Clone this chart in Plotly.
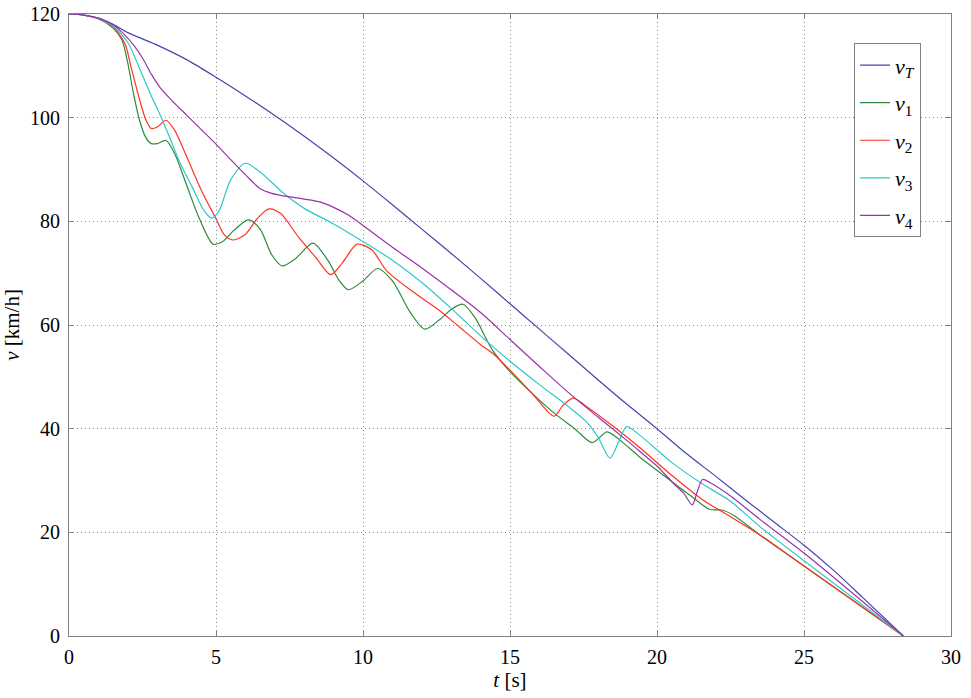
import plotly.graph_objects as go

# ---- data ----
t_T = [0, 0.5, 1, 1.5, 2, 2.5, 3, 4, 5, 6, 7, 8, 9, 10, 11, 12, 13, 14, 15, 16, 17, 18, 19, 20, 21, 22, 23, 24, 25, 26, 27, 28.38]
v_T = [120, 119.8, 119.2, 118, 116.4, 115.2, 114, 111.2, 107.8, 104.2, 100.4, 96.4, 92.2, 87.8, 83.2, 78.5, 73.8, 69.0, 64.1, 59.2, 54.3, 49.4, 44.6, 40.0, 35.2, 30.8, 26.3, 21.9, 17.5, 12.7, 7.4, 0]

t_1 = [0, 0.5, 1, 1.5, 1.8, 2.0, 2.2, 2.4, 2.6, 2.8, 3.0, 3.3, 3.6, 4.0, 4.4, 4.9, 5.2, 5.6, 6.1, 6.5, 6.9, 7.25, 7.7, 8.3, 8.8, 9.2, 9.5, 10.0, 10.5, 11.0, 11.6, 12.1, 12.6, 13.0, 13.4, 13.8, 14.4, 15, 16, 16.5, 17.2, 17.8, 18.3, 18.8, 19.4, 20.5, 21.2, 21.8, 22.2, 22.6, 23.5, 25, 28.38]
v_1 = [120, 119.8, 119.1, 117.3, 115, 110.5, 104.5, 99.5, 96.3, 95.0, 95.0, 95.6, 93, 87, 81, 75.6, 76, 78.2, 80.3, 78.5, 73.5, 71.4, 72.8, 75.8, 72.5, 68.5, 66.8, 68.5, 70.9, 68.5, 62.5, 59.2, 61.0, 63.0, 64.0, 61.5, 55.2, 51, 45.5, 43, 40.0, 37.3, 39.4, 37.5, 34.6, 29.8, 26.8, 24.4, 24.3, 23.3, 19.5, 13.5, 0]

t_2 = [0, 0.5, 1, 1.5, 1.9, 2.1, 2.4, 2.6, 2.8, 3.0, 3.3, 3.6, 4.0, 4.5, 5.0, 5.3, 5.6, 6.0, 6.4, 6.8, 7.2, 7.8, 8.4, 8.9, 9.3, 9.8, 10.3, 10.8, 11.7, 12.6, 13.2, 13.98, 14.4, 15, 15.8, 16.5, 16.8, 17.15, 17.6, 18.5, 19.4, 20.5, 21.5, 22.5, 23.5, 25, 28.38]
v_2 = [120, 119.8, 119.1, 117.4, 114.3, 110, 103.5, 99.8, 97.9, 98.2, 99.5, 97.5, 92.5, 86, 80.5, 77.3, 76.4, 77.5, 80.5, 82.4, 81.5, 77, 73, 69.7, 72, 75.6, 74.5, 70.5, 66.4, 62.8, 60, 56.3, 54.6, 51.3, 46.5, 42.4, 44.5, 45.9, 44.3, 40.5, 36.4, 31, 26.5, 23, 19.5, 13.5, 0]

t_3 = [0, 0.5, 1, 1.5, 2.0, 2.4, 2.8, 3.1, 3.4, 3.8, 4.2, 4.6, 4.85, 5.1, 5.5, 6.0, 6.5, 7.3, 8.0, 9.0, 10.0, 11.0, 12.0, 13.0, 14.0, 15, 16, 17, 17.6, 18.0, 18.4, 18.7, 18.97, 19.4, 20.5, 21.5, 22.5, 23.5, 25, 28.38]
v_3 = [120, 119.8, 119.1, 117.6, 114.5, 109.5, 104.2, 100.5, 96.5, 91, 86.5, 82, 80.6, 82, 88, 91.2, 89.5, 85.4, 82.5, 79.5, 76.1, 72.5, 68.2, 63.2, 57.9, 53, 48.5, 44.2, 41.3, 38.3, 34.3, 37.5, 40.4, 38.8, 33.5, 29.5, 26, 21.1, 14.5, 0]

t_4 = [0, 0.5, 1, 1.5, 1.8, 2.2, 2.5, 2.8, 3.1, 3.5, 4.0, 4.5, 5.0, 5.5, 6.0, 6.5, 6.9, 7.4, 8.0, 8.5, 9.0, 9.5, 10.0, 11, 12, 13, 14, 15, 16, 17, 18, 19, 19.42, 20, 20.55, 20.9, 21.2, 21.35, 21.55, 21.8, 22.5, 23.5, 25, 28.38]
v_4 = [120, 119.8, 119.2, 117.9, 116.5, 114, 111.5, 108.4, 105.8, 103.3, 100.5, 97.7, 94.9, 91.9, 89.0, 86.3, 85.4, 84.8, 84.3, 83.8, 82.7, 81.2, 79.2, 75, 71, 66.8, 62.4, 57.2, 52, 46.9, 42.2, 37.6, 35.6, 32.8, 29.5, 27.6, 25.3, 27.5, 30.2, 29.6, 27, 22.5, 16, 0]

series_names = ["<i>v</i><sub><i>T</i></sub>", "<i>v</i><sub>1</sub>", "<i>v</i><sub>2</sub>",
                "<i>v</i><sub>3</sub>", "<i>v</i><sub>4</sub>"]
series_colors = ["#4444b0", "#2e8b3c", "#ff3322", "#2ec8c8", "#9933aa"]

x_ticks = [0, 5, 10, 15, 20, 25, 30]
y_ticks = [0, 20, 40, 60, 80, 100, 120]

fig = go.Figure()
for i, ((tt, vv), name, col) in enumerate(zip([(t_T, v_T), (t_1, v_1), (t_2, v_2), (t_3, v_3), (t_4, v_4)],
                                              series_names, series_colors)):
    fig.add_trace(go.Scatter(x=tt, y=vv, mode="lines", name=name, legendgroup=f"g{i}",
                             line=dict(color=col, width=1.2, shape="spline", smoothing=0.8)))

fam = "Liberation Serif"
axis_common = dict(showline=True, linecolor="#7f7f7f", linewidth=1, mirror="ticks",
                   ticks="inside", ticklen=5, tickcolor="#7f7f7f",
                   showgrid=True, gridcolor="#8c8c8c", griddash="1px,3px", gridwidth=1,
                   zeroline=False, automargin=False,
                   tickfont=dict(family=fam, size=20, color="black"))

fig.update_xaxes(range=[0, 30], tickvals=x_ticks, ticklabelstandoff=3,
                 title=dict(text="<i>t</i> [s]", font=dict(family=fam, size=21, color="black"), standoff=2),
                 **axis_common)
fig.update_yaxes(range=[0, 120], tickvals=y_ticks, ticklabelstandoff=4,
                 title=dict(text="<i>v</i> [km/h]", font=dict(family=fam, size=21, color="black"), standoff=10),
                 **axis_common)

fig.update_layout(
    width=971, height=698,
    margin=dict(l=69, r=20, t=14, b=62),
    plot_bgcolor="white", paper_bgcolor="white",
    font=dict(family=fam, color="black"),
    legend=dict(x=0.89, y=0.953, xanchor="left", yanchor="top",
                bgcolor="white", bordercolor="#7f7f7f", borderwidth=1,
                font=dict(family=fam, size=22, color="black"),
                tracegroupgap=6, itemwidth=30),
    showlegend=True,
)

# remove the default 8px page margin so the figure fills the window exactly
fig.write_html("out.html", config={"displayModeBar": False},
               post_script="document.body.style.margin='0';")
